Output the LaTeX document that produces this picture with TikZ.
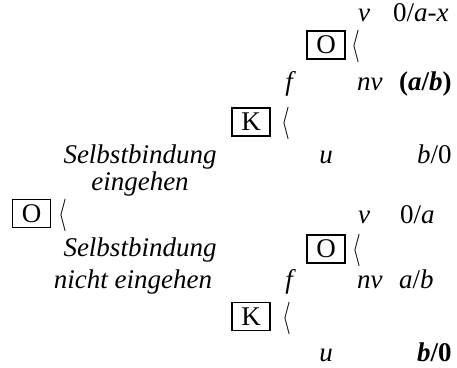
\documentclass[tikz,border=0pt]{standalone}
\usepackage{graphicx}
\usepackage{fontspec}
\setmainfont{Liberation Serif}
\newcommand{\angbr}{\scalebox{0.9}[1.3]{$\langle$}}
\begin{document}
\begin{tikzpicture}[x=1pt,y=-1pt,
  txt/.style={inner sep=0pt,font=\fontsize{27}{30}\selectfont},
  it/.style={txt,font=\fontsize{27}{30}\selectfont\itshape},
  pay/.style={txt,anchor=base west},
  boxed/.style={draw,line width=1.8pt,inner sep=0pt,font=\fontsize{27}{30}\selectfont,minimum width=38pt,minimum height=28pt},
  brk/.style={inner sep=0pt,font=\fontsize{23}{28}\selectfont}]
\useasboundingbox (0,0) rectangle (457,367);
% upper subtree
\node[it,anchor=base] (v1) at (364,21) {v};
\node[pay] (p1) at (393,21) {0/\textit{a}-\textit{x}};
\node[boxed] (O1) at (326,45) {O};
\node[brk] (b1) at (356,46) {\angbr};
\node[it,anchor=base] (f1) at (289,90) {f};
\node[it,anchor=base west] (nv1) at (357,90) {nv};
\node[pay] (p2) at (399,90) {\textbf{(\textit{a}/\textit{b})}};
\node[boxed] (K1) at (251,122) {K};
\node[brk] (b2) at (286,123) {\angbr};
\node[it,anchor=base] (u1) at (326,163) {u};
\node[pay] (p3) at (417,163) {\textit{b}/0};
% left labels
\node[it,anchor=base] (s1) at (140,163) {Selbstbindung};
\node[it,anchor=base] (e1) at (140,190) {eingehen};
\node[boxed] (O0) at (31.5,213.5) {O};
\node[brk] (b0) at (63,215) {\angbr};
\node[it,anchor=base] (s2) at (140,256) {Selbstbindung};
\node[it,anchor=base] (e2) at (133,288) {nicht eingehen};
% lower subtree
\node[it,anchor=base] (v2) at (364,223) {v};
\node[pay] (p4) at (400,223) {0/\textit{a}};
\node[boxed] (O2) at (326,249) {O};
\node[brk] (b3) at (357,250) {\angbr};
\node[it,anchor=base] (f2) at (289,288) {f};
\node[it,anchor=base west] (nv2) at (357,288) {nv};
\node[pay] (p5) at (399,288) {\textit{a}/\textit{b}};
\node[boxed] (K2) at (251,316.5) {K};
\node[brk] (b4) at (287,318) {\angbr};
\node[it,anchor=base] (u2) at (326,361) {u};
\node[pay] (p6) at (417,361) {\textbf{\textit{b}/0}};
\end{tikzpicture}
\end{document}
